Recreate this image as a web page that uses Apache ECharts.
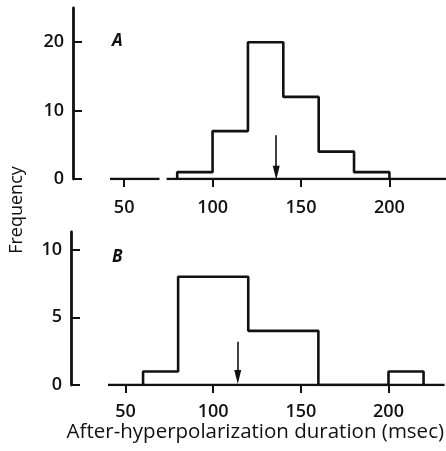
<!DOCTYPE html>
<html><head><meta charset="utf-8">
<script src="https://cdn.jsdelivr.net/npm/echarts@6/dist/echarts.min.js"></script>
<style>html,body{margin:0;padding:0;background:#fff}#c{width:446px;height:451px}</style>
</head><body><div id="c"></div>
<script>
// Panel A
const binEdgesA = [80, 100, 120, 140, 160, 180, 200];
const countsA = [1, 7, 20, 12, 4, 1];
const arrowA = [136, 6.4, 0.9]; // x, yTop, yBottom
const baselineA = [[42, 70], [74, 232]];
const yTicksA = [0, 10, 20];
// Panel B
const binEdgesB = [60, 80, 100, 120, 140, 160, 180, 200, 220];
const countsB = [1, 8, 8, 4, 4, 0, 0, 1];
const arrowB = [114, 3.2, 0.6];
const baselineB = [[40, 232]];
const yTicksB = [0, 5, 10];
const xTicks = [50, 100, 150, 200];

function stepPts(edges, counts) {
  const pts = [[edges[0], 0]];
  for (let i = 0; i < counts.length; i++) {
    pts.push([edges[i], counts[i]]);
    pts.push([edges[i + 1], counts[i]]);
  }
  pts.push([edges[edges.length - 1], 0]);
  return pts;
}

const FONT = 'Open Sans';
const lab = { fontFamily: FONT, fontSize: 18, fontWeight: 600, color: '#111' };
const lineStyle = { color: '#111', width: 2.6 };

function xAxis(gi, min, margin) {
  return {
    type: 'value', gridIndex: gi, min: min, max: 232,
    axisLine: { show: false },
    axisTick: { show: true, inside: false, length: 8, lineStyle: { color: '#111', width: 2 }, customValues: xTicks },
    axisLabel: { ...lab, margin: margin, customValues: xTicks },
    splitLine: { show: false }
  };
}
function yAxis(gi, max, ticks) {
  return {
    type: 'value', gridIndex: gi, min: 0, max: max, offset: 37,
    axisLine: { show: true, lineStyle: { color: '#111', width: 2.8 } },
    axisTick: { show: true, inside: true, length: 9, lineStyle: { color: '#111', width: 2 }, customValues: ticks },
    axisLabel: { ...lab, margin: 9, customValues: ticks },
    splitLine: { show: false }
  };
}
function baseSeries(segs, gi) {
  return segs.map(s => ({
    type: 'line', xAxisIndex: gi, yAxisIndex: gi, symbol: 'none', silent: true,
    lineStyle: lineStyle, data: [[s[0], 0], [s[1], 0]]
  }));
}
function arrowSeries(a, gi) {
  return {
    type: 'line', xAxisIndex: gi, yAxisIndex: gi, symbol: 'none', silent: true,
    lineStyle: { color: '#111', width: 1.6 }, data: [],
    markLine: {
      silent: true, symbol: ['none', 'triangle'], symbolSize: [7, 14],
      lineStyle: { color: '#111', width: 1.6, type: 'solid' }, label: { show: false },
      data: [[{ coord: [a[0], a[1]] }, { coord: [a[0], a[2]] }]]
    }
  };
}

const chart = echarts.init(document.getElementById('c'));
chart.setOption({
  animation: false,
  grid: [
    { left: 110, right: 0, top: 8, height: 171 },
    { left: 108, right: 0, top: 232, height: 153 }
  ],
  xAxis: [xAxis(0, 42, 20), Object.assign(xAxis(1, 40, 18), {
    name: 'After-hyperpolarization duration (msec)', nameLocation: 'middle', nameGap: 34,
    nameTextStyle: { fontFamily: FONT, fontSize: 20.5, color: '#111', fontWeight: 500, padding: [0, 42, 0, 0] }
  })],
  yAxis: [yAxis(0, 25, yTicksA), yAxis(1, 11.3, yTicksB)],
  graphic: [
    { type: 'text', left: 112, top: 33, style: { text: 'A', font: 'italic bold 17px "Open Sans"', fill: '#111' } },
    { type: 'text', left: 112, top: 249, style: { text: 'B', font: 'italic bold 17px "Open Sans"', fill: '#111' } },
    { type: 'text', x: 17, y: 210, rotation: Math.PI / 2,
      style: { text: 'Frequency', font: '500 18px "Open Sans"', fill: '#111', align: 'center', verticalAlign: 'middle' } }
  ],
  series: [
    ...baseSeries(baselineA, 0),
    ...baseSeries(baselineB, 1),
    { type: 'line', xAxisIndex: 0, yAxisIndex: 0, symbol: 'none', lineStyle: lineStyle, data: stepPts(binEdgesA, countsA) },
    { type: 'line', xAxisIndex: 1, yAxisIndex: 1, symbol: 'none', lineStyle: lineStyle, data: stepPts(binEdgesB, countsB) },
    arrowSeries(arrowA, 0),
    arrowSeries(arrowB, 1)
  ]
});
</script></body></html>
